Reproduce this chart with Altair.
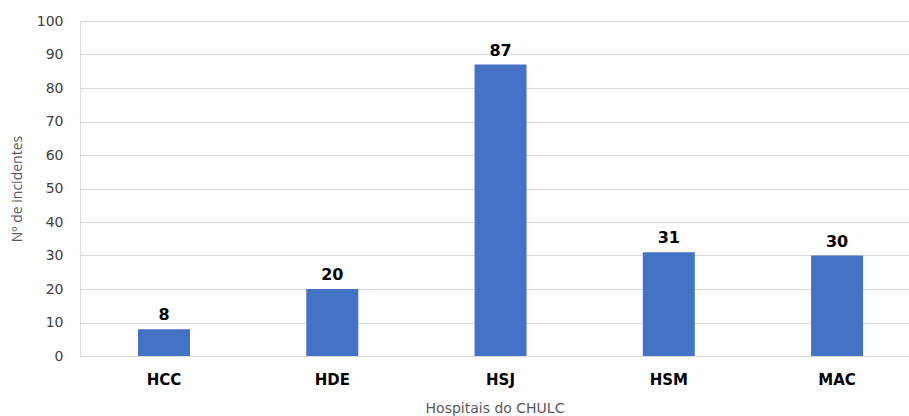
import altair as alt
import pandas as pd

hospitals = ["HCC", "HDE", "HSJ", "HSM", "MAC"]
incidents = [8, 20, 87, 31, 30]

df = pd.DataFrame({"hospital": hospitals, "incidentes": incidents})

font = "DejaVu Sans"

x = alt.X(
    "hospital:N",
    sort=hospitals,
    title="Hospitais do CHULC",
    scale=alt.Scale(paddingInner=0.691, paddingOuter=0.309, align=0.558),
    axis=alt.Axis(
        labelAngle=0, labelFont=font, labelFontSize=15, labelFontWeight="bold",
        labelColor="#000000", labelPadding=16, ticks=False, domain=False,
        titleFont=font, titleFontSize=14, titleFontWeight="normal",
        titleColor="#595959", titlePadding=14,
    ),
)
y = alt.Y(
    "incidentes:Q",
    title="Nº de incidentes",
    scale=alt.Scale(domain=[0, 100], nice=False),
    axis=alt.Axis(
        values=list(range(0, 101, 10)), labelFont=font, labelFontSize=14,
        labelColor="#404040", labelPadding=17, ticks=False, domain=False,
        gridColor="#d9d9d9", gridWidth=1,
        titleFont="Open Sans", titleFontSize=14, titleFontWeight="normal",
        titleColor="#595959", titlePadding=12,
    ),
)

bars = alt.Chart(df).mark_bar(color="#4472C4").encode(x=x, y=y)
labels = alt.Chart(df).mark_text(
    dy=-14, font=font, fontSize=16, fontWeight="bold", color="#000000"
).encode(x=x, y=y, text="incidentes:Q")

chart = (
    (bars + labels)
    .properties(
        width=829, height=335,
        autosize=alt.AutoSizeParams(type="none"),
        padding={"left": 80, "top": 21, "right": 0, "bottom": 60},
    )
    .configure_view(stroke=None)
    .configure(background="white")
)

chart.save("out.html", embed_options={"renderer": "svg", "actions": False})
